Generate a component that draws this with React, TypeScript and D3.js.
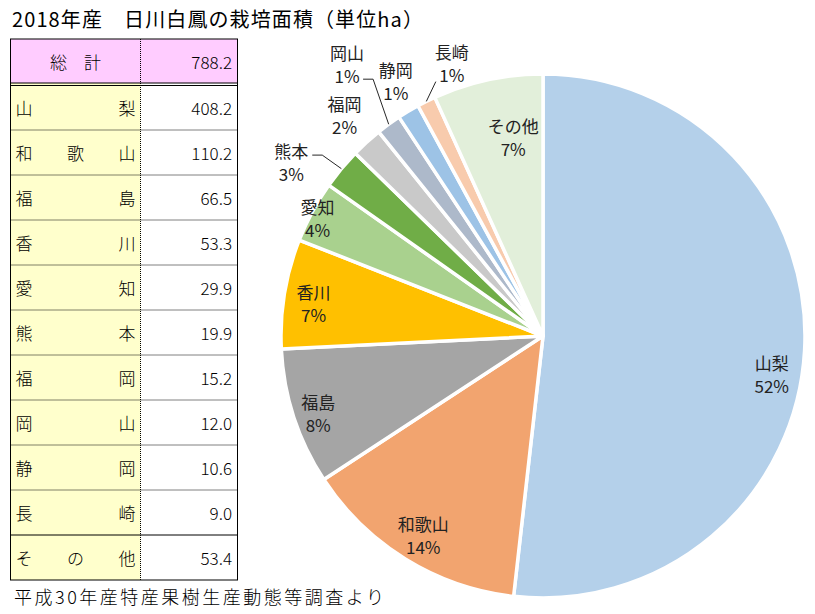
import React from "react";
import * as d3 from "d3";

const regions = ["山梨", "和歌山", "福島", "香川", "愛知", "熊本", "福岡", "岡山", "静岡", "長崎", "その他"];
const areas = [408.2, 110.2, 66.5, 53.3, 29.9, 19.9, 15.2, 12.0, 10.6, 9.0, 53.4];
const areaLabels = ["408.2", "110.2", "66.5", "53.3", "29.9", "19.9", "15.2", "12.0", "10.6", "9.0", "53.4"];
const percentLabels = ["52%", "14%", "8%", "7%", "4%", "3%", "2%", "1%", "1%", "1%", "7%"];
const totalLabel = "788.2";
const colors = ["#B4D0EA", "#F2A46F", "#A5A5A5", "#FFC000", "#A9D18E", "#70AD47", "#C9C9C9", "#ADB9CA", "#9DC3E6", "#F8CBAD", "#E2EFDA"];

// label placement: radius factor and angle offset (deg) from slice mid angle
const labelLayout = [
  { rf: 0.885, da: 6.2 },
  { rf: 0.885, da: -0.5 },
  { rf: 0.906, da: -0.7 },
  { rf: 0.885, da: -1.1 },
  { rf: 0.973, da: -0.5 },
  { rf: 1.17, da: -4.9, leader: [[31, -6], [21, -6]] },
  { rf: 1.134, da: 0.4 },
  { rf: 1.282, da: 0.4, leader: [[26, 16], [16, 16]] },
  { rf: 1.126, da: 1.0 },
  { rf: 1.1, da: 8.0, leader: [[-16, 19]] },
  { rf: 0.771, da: 3.7 },
];

const W = 815, H = 614;
const cx = 543, cy = 336, R = 262;
const JP = "'Noto Sans CJK JP', 'Noto Sans', sans-serif";

const tableLeft = 10.5, tableMid = 140.5, tableRight = 237.5;
const headTop = 39, headBottom = 83, rowTop = 85.5, rowH = 45;

function DistText({ text, y }: { text: string; y: number }) {
  const chars = Array.from(text);
  const left = 24, right = 127;
  const n = chars.length;
  return (
    <g>
      {chars.map((c, i) => (
        <text key={i} x={n === 1 ? left : left + ((right - left) * i) / (n - 1)} y={y}
          textAnchor="middle" dominantBaseline="central" fontSize={17} fontFamily={JP} fill="#000" fontWeight={300}>
          {c}
        </text>
      ))}
    </g>
  );
}

export default function App() {
  const pie = d3.pie<number>().sort(null).value((d) => d)(areas);
  const arc = d3.arc<d3.PieArcDatum<number>>().innerRadius(0).outerRadius(R);

  const nRows = regions.length;
  const tableBottom = rowTop + nRows * rowH - 0.5;

  return (
    <svg width={W} height={H} style={{ position: "absolute", left: 0, top: 0 }} xmlns="http://www.w3.org/2000/svg">
      <rect width={W} height={H} fill="#fff" />
      {/* Title */}
      <text x={12} y={18} dominantBaseline="central" fontSize={20} fontFamily={JP} fill="#000" fontWeight={400} letterSpacing={1.1}>
        2018年産　日川白鳳の栽培面積（単位ha）
      </text>

      {/* Table */}
      <rect x={tableLeft} y={headTop} width={tableRight - tableLeft} height={headBottom - headTop} fill="#FFCCFF" />
      <rect x={tableLeft} y={headBottom} width={tableMid - tableLeft} height={tableBottom - headBottom} fill="#FFFFCC" />
      <text x={(tableLeft + tableMid) / 2} y={(headTop + headBottom) / 2} textAnchor="middle" dominantBaseline="central"
        fontSize={17} fontFamily={JP} fontWeight={300} fill="#000" xmlSpace="preserve">
        総　計
      </text>
      <text x={232} y={(headTop + headBottom) / 2} textAnchor="end" dominantBaseline="central"
        fontSize={17} fontFamily={JP} fontWeight={300} fill="#000">
        {totalLabel}
      </text>
      {regions.map((r, i) => {
        const y0 = rowTop + i * rowH;
        const yc = y0 + rowH / 2 - 1;
        return (
          <g key={r}>
            <DistText text={r} y={yc} />
            <text x={232} y={yc} textAnchor="end" dominantBaseline="central" fontSize={17} fontFamily={JP} fontWeight={300} fill="#000">
              {areaLabels[i]}
            </text>
            {i > 0 && (
              <line x1={tableLeft} x2={tableRight} y1={y0 - 0.5} y2={y0 - 0.5} stroke="#000"
                strokeWidth={1} strokeDasharray={i === nRows - 1 ? undefined : "1 1"} />
            )}
          </g>
        );
      })}
      <line x1={tableLeft} x2={tableRight} y1={headBottom} y2={headBottom} stroke="#000" strokeWidth={1} />
      <line x1={tableLeft} x2={tableRight} y1={headBottom + 2.5} y2={headBottom + 2.5} stroke="#000" strokeWidth={1} />
      <line x1={tableMid} x2={tableMid} y1={headTop} y2={tableBottom} stroke="#000" strokeWidth={1} strokeDasharray="1 1" />
      <rect x={tableLeft} y={headTop} width={tableRight - tableLeft} height={tableBottom - headTop} fill="none" stroke="#000" strokeWidth={1} />

      {/* Footer */}
      <text x={14} y={596} dominantBaseline="central" fontSize={18} fontFamily={JP} fontWeight={300} fill="#000" letterSpacing={2.5}>
        平成30年産特産果樹生産動態等調査より
      </text>

      {/* Pie */}
      <g transform={`translate(${cx},${cy})`}>
        {pie.map((d, i) => (
          <path key={i} d={arc(d) || ""} fill={colors[i]} stroke="#fff" strokeWidth={3.5} strokeLinejoin="round" />
        ))}
        {pie.map((d, i) => {
          const mid = (d.startAngle + d.endAngle) / 2;
          const L = labelLayout[i];
          const a = mid + (L.da * Math.PI) / 180;
          const lx = Math.sin(a) * R * L.rf;
          const ly = -Math.cos(a) * R * L.rf;
          const ex = Math.sin(mid) * R;
          const ey = -Math.cos(mid) * R;
          let leader = null;
          if (L.leader) {
            const pts: [number, number][] = [[ex, ey], ...L.leader.map((p) => [lx + p[0], ly + p[1]] as [number, number])];
            leader = <path d={d3.line()(pts) || ""} fill="none" stroke="#262626" strokeWidth={1} />;
          }
          return (
            <g key={"l" + i}>
              {leader}
              <text x={lx} y={ly - 11} textAnchor="middle" dominantBaseline="central" fontSize={17} fontFamily={JP} fill="#222">
                {regions[i]}
              </text>
              <text x={lx} y={ly + 12} textAnchor="middle" dominantBaseline="central" fontSize={17} fontFamily={JP} fill="#222">
                {percentLabels[i]}
              </text>
            </g>
          );
        })}
      </g>
    </svg>
  );
}
